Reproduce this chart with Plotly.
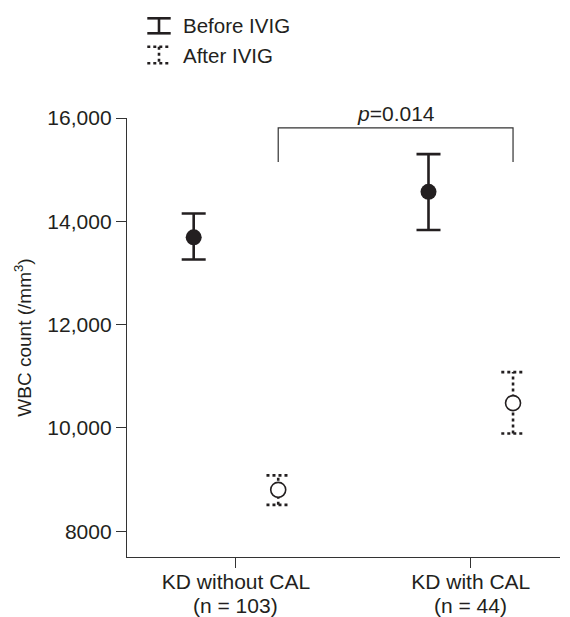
import plotly.graph_objects as go

# ---- data ----
categories = ["KD without CAL", "KD with CAL"]
cat_n = ["(n = 103)", "(n = 44)"]
cat_pos = [1, 2]
before_mean = [13690, 14570]
before_upper = [14150, 15300]
before_lower = [13260, 13830]
after_mean = [8800, 10480]
after_upper = [9080, 11080]
after_lower = [8510, 9890]
ytick_vals = [8000, 10000, 12000, 14000, 16000]
ytick_text = ["8000", "10,000", "12,000", "14,000", "16,000"]
p_label = "<i>p</i>=0.014"
bracket_top = 15810
bracket_leg = 15150

INK = "#231f20"
AX = "#333333"
FONT = "Liberation Sans, Arial, Helvetica, sans-serif"
offset = 0.18
capw = 0.05

# the page body adds an 8px offset, so the figure is sized 8px smaller
W, H = 562, 609
L, R, T, B = 119, 552, 110, 549

xb = [c - offset for c in cat_pos]
xa = [c + offset for c in cat_pos]

fig = go.Figure()

# Before IVIG: solid error bars + filled circles
fig.add_trace(go.Scatter(
    x=xb, y=before_mean, mode="markers",
    marker=dict(symbol="circle", size=16, color=INK, line=dict(width=0)),
    error_y=dict(type="data", symmetric=False,
                 array=[u - m for u, m in zip(before_upper, before_mean)],
                 arrayminus=[m - l for m, l in zip(before_mean, before_lower)],
                 color=INK, thickness=2.6, width=12),
    showlegend=False, hoverinfo="skip"))

# After IVIG: dotted error bars drawn as lines
for x, lo, up in zip(xa, after_lower, after_upper):
    fig.add_trace(go.Scatter(
        x=[x, x, None, x - capw, x + capw, None, x - capw, x + capw],
        y=[lo, up, None, up, up, None, lo, lo],
        mode="lines", line=dict(color=INK, width=2.6, dash="3px,3px"),
        showlegend=False, hoverinfo="skip"))

fig.add_trace(go.Scatter(
    x=xa, y=after_mean, mode="markers",
    marker=dict(symbol="circle", size=15, color="white", line=dict(color=INK, width=1.6)),
    showlegend=False, hoverinfo="skip"))

# significance bracket
fig.add_trace(go.Scatter(
    x=[xa[0], xa[0], xa[1], xa[1]],
    y=[bracket_leg, bracket_top, bracket_top, bracket_leg],
    mode="lines", line=dict(color=AX, width=1.2),
    showlegend=False, hoverinfo="skip", cliponaxis=False))
fig.add_annotation(x=(xa[0] + xa[1]) / 2, y=bracket_top, xref="x", yref="y",
                   text=p_label, showarrow=False, yanchor="bottom", yshift=1,
                   font=dict(family=FONT, size=21, color=INK))

def px(xp):
    return (xp - L) / (R - L)
def py(yp):
    return (B - yp) / (B - T)

# second line of category labels
for x, t in zip(cat_pos, cat_n):
    fig.add_annotation(x=x, y=py(597), xref="x", yref="paper", text=t,
                       showarrow=False, yanchor="middle",
                       font=dict(family=FONT, size=21, color=INK))

# manual legend
legend_items = [("Before IVIG", "solid", 10.3, 25.3), ("After IVIG", "dot", 38.7, 55.3)]
for name, dash, ytop, ybot in legend_items:
    lines = [(139.3, ytop, 162.7, ytop), (139.3, ybot, 162.7, ybot), (151, ytop, 151, ybot)]
    for x0, y0, x1, y1 in lines:
        fig.add_shape(type="line", xref="paper", yref="paper",
                      x0=px(x0), y0=py(y0), x1=px(x1), y1=py(y1),
                      line=dict(color=INK, width=2.6, dash=dash))
    fig.add_annotation(x=px(173), y=py((ytop + ybot) / 2), xref="paper", yref="paper",
                       text=name, showarrow=False, xanchor="left", yanchor="middle",
                       font=dict(family=FONT, size=20.5, color=INK))

fig.update_layout(
    width=W, height=H,
    margin=dict(l=L, r=W - R, t=T, b=H - B),
    plot_bgcolor="white", paper_bgcolor="white",
    font=dict(family=FONT, size=21, color=INK),
    showlegend=False,
)
fig.update_xaxes(range=[0.536, 2.38], tickvals=cat_pos, ticktext=categories,
                 ticks="outside", ticklen=10, tickwidth=1.3, tickcolor=AX,
                 showline=True, linecolor=AX, linewidth=1.4,
                 showgrid=False, zeroline=False, automargin=False,
                 ticklabelstandoff=-4,
                 tickfont=dict(family=FONT, size=21, color=INK))
fig.update_yaxes(range=[7500, 16000], tickvals=ytick_vals, ticktext=ytick_text,
                 ticks="outside", ticklen=10, tickwidth=1.3, tickcolor=AX,
                 showline=True, linecolor=AX, linewidth=1.4,
                 showgrid=False, zeroline=False, automargin=False,
                 tickfont=dict(family=FONT, size=21, color=INK),
                 title=dict(text="WBC count (/mm<sup>3</sup>)", standoff=10,
                            font=dict(family=FONT, size=19, color=INK)))

fig.write_html("out.html")
